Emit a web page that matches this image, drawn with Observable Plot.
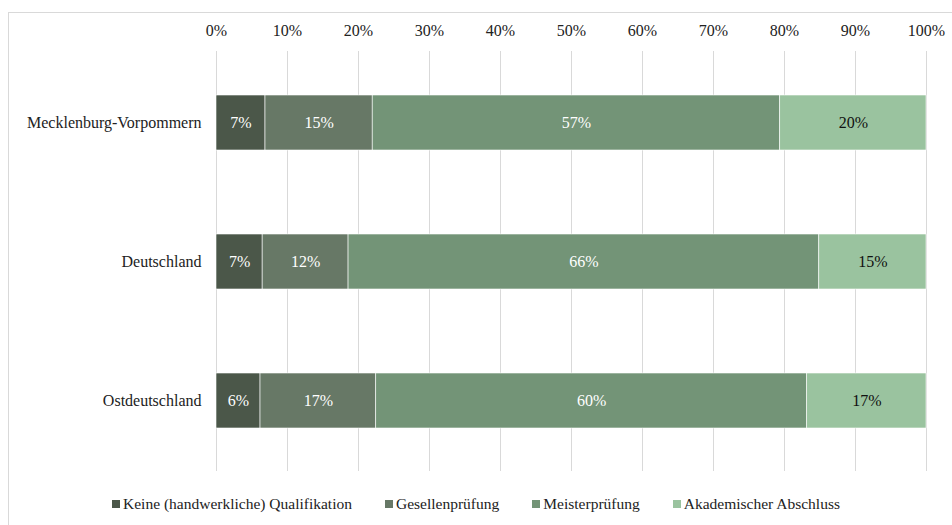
<!DOCTYPE html>
<html><head><meta charset="utf-8">
<script src="https://cdn.jsdelivr.net/npm/d3@7"></script>
<script src="https://cdn.jsdelivr.net/npm/@observablehq/plot@0.6"></script>
<style>
body{margin:0;background:#fff;font-family:"Liberation Serif","Tinos","DejaVu Serif",serif;}
#frame{position:absolute;left:8px;top:12px;width:960px;height:540px;border:1px solid #d9d9d9;box-sizing:border-box;}
#chart{position:absolute;left:0;top:0;}
#legend{position:absolute;left:0;top:495px;width:952px;display:flex;justify-content:center;gap:33px;font-size:15.5px;color:#222;}
#legend span.item{display:flex;align-items:center;white-space:nowrap;}
#legend span.sw{display:inline-block;width:8px;height:8px;margin-right:3px;}
</style></head>
<body>
<div id="frame"></div>
<div id="chart"></div>
<div id="legend"></div>
<script>
const regions = ["Mecklenburg-Vorpommern", "Deutschland", "Ostdeutschland"];
const seriesNames = ["Keine (handwerkliche) Qualifikation", "Gesellenprüfung", "Meisterprüfung", "Akademischer Abschluss"];
const keine = [6.9, 6.5, 6.2];
const gesellen = [15.1, 12.1, 16.3];
const meister = [57.4, 66.3, 60.7];
const akademisch = [20.6, 15.1, 16.8];
const labels = [["7%","15%","57%","20%"],["7%","12%","66%","15%"],["6%","17%","60%","17%"]];
const colors = ["#4b5749", "#677866", "#739477", "#9ac39f"];
const xTicks = [0,10,20,30,40,50,60,70,80,90,100];

const seriesValues = [keine, gesellen, meister, akademisch];
const data = [];
regions.forEach((r, i) => seriesNames.forEach((s, j) => {
  data.push({region: r, series: s, value: seriesValues[j][i], label: labels[i][j], dark: j < 3});
}));

const FONT = '"Liberation Serif","Tinos","DejaVu Serif",serif';
const FS = 16;
const stackOpts = {order: seriesNames};
const chart = Plot.plot({
  width: 952, height: 480,
  marginLeft: 216, marginRight: 26, marginTop: 51, marginBottom: 9,
  style: {fontFamily: FONT, fontSize: FS + "px", color: "#222", background: "transparent"},
  x: {domain: [0, 100], axis: "top", ticks: xTicks, tickFormat: d => d + "%", tickSize: 0, tickPadding: 16, label: null},
  y: {domain: regions, paddingInner: 0.607, paddingOuter: 0.304, tickSize: 0, tickPadding: 15, label: null},
  color: {domain: seriesNames, range: colors},
  marks: [
    Plot.ruleX(xTicks, {stroke: "#d9d9d9", strokeWidth: 1}),
    Plot.barX(data, Plot.stackX({x: "value", y: "region", fill: "series", stroke: "#fff", strokeWidth: 0.6, ...stackOpts})),
    Plot.text(data, Plot.filter(d => d.dark, Plot.stackX({x: "value", y: "region", z: "series", text: "label", fill: "#fff", fontSize: FS, ...stackOpts}))),
    Plot.text(data, Plot.filter(d => !d.dark, Plot.stackX({x: "value", y: "region", z: "series", text: "label", fill: "#111", fontSize: FS, ...stackOpts})))
  ]
});
document.getElementById("chart").appendChild(chart);

const legend = document.getElementById("legend");
seriesNames.forEach((s, j) => {
  const it = document.createElement("span"); it.className = "item";
  const sw = document.createElement("span"); sw.className = "sw"; sw.style.background = colors[j];
  it.appendChild(sw); it.appendChild(document.createTextNode(s));
  legend.appendChild(it);
});
</script>
</body></html>
